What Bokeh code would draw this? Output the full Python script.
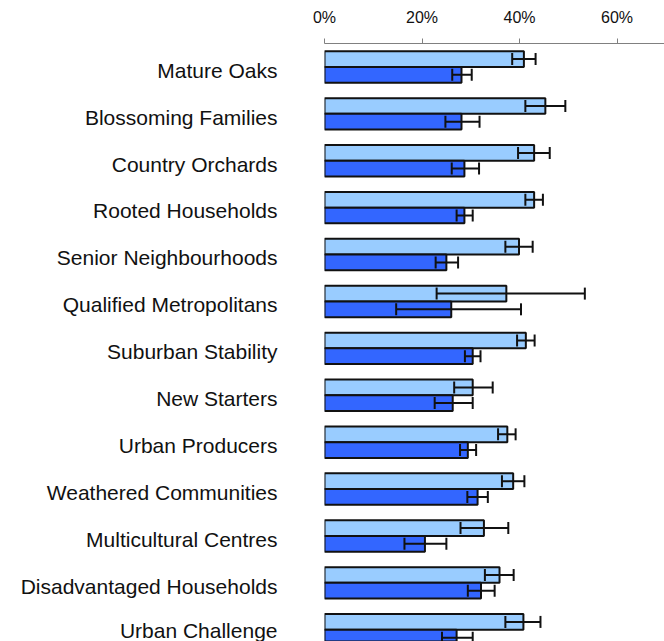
import numpy as np
from bokeh.plotting import figure
from bokeh.models import (ColumnDataSource, Range1d, FixedTicker, PrintfTickFormatter,
                          LinearAxis, Whisker, TeeHead)
from bokeh.transform import dodge
from bokeh.embed import file_html
from bokeh.resources import INLINE

categories = ["Mature Oaks", "Blossoming Families", "Country Orchards", "Rooted Households",
              "Senior Neighbourhoods", "Qualified Metropolitans", "Suburban Stability",
              "New Starters", "Urban Producers", "Weathered Communities",
              "Multicultural Centres", "Disadvantaged Households", "Urban Challenge"]

light = [40.9, 45.3, 43.0, 43.0, 39.9, 37.3, 41.3, 30.4, 37.5, 38.7, 32.7, 35.9, 40.8]
light_low = [38.5, 41.2, 39.7, 41.2, 37.1, 23.0, 39.5, 26.6, 35.6, 36.4, 27.9, 32.9, 37.1]
light_high = [43.3, 49.4, 46.2, 44.8, 42.7, 53.4, 43.1, 34.5, 39.2, 41.0, 37.7, 38.8, 44.3]

dark = [28.1, 28.1, 28.7, 28.7, 25.0, 26.0, 30.4, 26.3, 29.4, 31.4, 20.6, 32.1, 27.1]
dark_low = [26.2, 24.8, 26.1, 27.1, 22.8, 14.7, 28.8, 22.6, 27.8, 29.3, 16.4, 29.4, 24.1]
dark_high = [30.2, 31.8, 31.7, 30.4, 27.4, 40.3, 32.0, 30.4, 31.1, 33.5, 25.0, 34.9, 30.4]

x_ticks = [0, 20, 40, 60]

FONT = "Liberation Sans"
LIGHT = "#99ccff"
DARK = "#3366ff"

idx = np.arange(len(categories))
src = ColumnDataSource(dict(
    y=idx, cat=categories,
    light=light, light_low=light_low, light_high=light_high,
    dark=dark, dark_low=dark_low, dark_high=dark_high,
))

p = figure(width=664, height=641, output_backend="svg", toolbar_location=None,
           x_range=Range1d(0, 69.74), y_range=Range1d(12.25, -0.5),
           x_axis_location=None, y_axis_location=None,
           min_border_left=324, min_border_top=43, min_border_right=0, min_border_bottom=0)
p.outline_line_color = None
p.xgrid.visible = False
p.ygrid.visible = False
p.background_fill_color = "white"
p.border_fill_color = "white"

BH = 0.335
off = BH / 2

p.hbar(y=dodge("y", -off), left=0, right="light", height=BH, source=src,
       fill_color=LIGHT, line_color="#111111", line_width=2)
p.hbar(y=dodge("y", off), left=0, right="dark", height=BH, source=src,
       fill_color=DARK, line_color="#111111", line_width=2)

for d, lo, hi in [(-off, "light_low", "light_high"), (off, "dark_low", "dark_high")]:
    w = Whisker(source=src, base=dodge("y", d), lower=lo, upper=hi, dimension="width",
                line_color="#111111", line_width=2, level="overlay",
                upper_head=TeeHead(size=12, line_color="#111111", line_width=2),
                lower_head=TeeHead(size=12, line_color="#111111", line_width=2))
    p.add_layout(w)

# top percentage axis
xa = LinearAxis(ticker=FixedTicker(ticks=x_ticks),
                formatter=PrintfTickFormatter(format="%d%%"))
xa.axis_line_color = "#808080"
xa.major_tick_line_color = "#808080"
xa.major_tick_out = 5
xa.major_tick_in = 0
xa.minor_tick_line_color = None
xa.major_label_text_font = FONT
xa.major_label_text_font_size = "16px"
xa.major_label_text_color = "#111111"
xa.major_label_standoff = 13
p.add_layout(xa, "above")

# left category axis
ya = LinearAxis(ticker=FixedTicker(ticks=list(idx + 0.07)),
                major_label_overrides={float(i + 0.07): c for i, c in zip(idx, categories)})
ya.axis_line_color = None
ya.major_tick_line_color = None
ya.minor_tick_line_color = None
ya.major_tick_out = 0
ya.major_tick_in = 0
ya.major_label_standoff = 47
ya.major_label_text_font = FONT
ya.major_label_text_font_size = "21px"
ya.major_label_text_color = "#111111"
p.add_layout(ya, "left")

open("out.html", "w").write(file_html(p, INLINE))
